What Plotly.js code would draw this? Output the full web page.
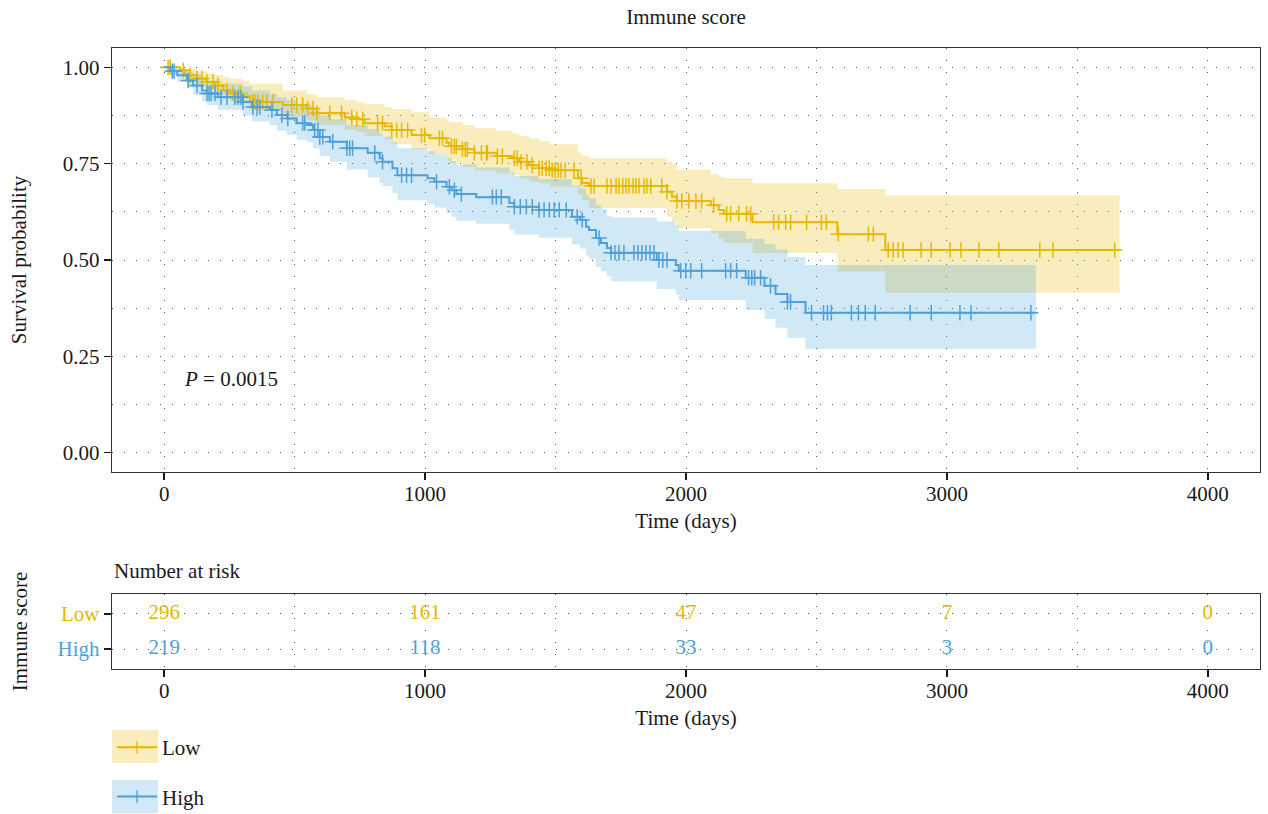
<!DOCTYPE html>
<html>
<head>
<meta charset="utf-8">
<script src="https://cdn.plot.ly/plotly-3.0.1.min.js"></script>
<style>html,body{margin:0;padding:0;background:#fff}#chart{width:1268px;height:814px}</style>
</head>
<body>
<div id="chart"></div>
<script>
// ---- Kaplan-Meier data (days, survival, 95% CI) ----
const lowTime  = [0,61,80,126,164,195,226,252,302,329,455,547,585,692,738,768,845,872,948,1017,1082,1093,1143,1189,1273,1334,1361,1399,1437,1480,1586,1602,1628,1927,1946,1965,2095,2125,2145,2255,2580,2764,3662];
const lowSurv  = [1,.992,.979,.971,.962,.953,.940,.932,.925,.910,.902,.893,.881,.870,.865,.855,.847,.837,.824,.816,.804,.795,.787,.778,.770,.764,.755,.746,.738,.733,.712,.700,.692,.677,.664,.653,.642,.630,.620,.598,.567,.526,.526];
const lowUpper = [1,.998,.995,.990,.984,.980,.975,.970,.965,.958,.940,.930,.922,.915,.909,.905,.897,.892,.883,.870,.862,.858,.850,.842,.835,.829,.822,.815,.809,.800,.778,.770,.764,.755,.750,.735,.723,.716,.712,.699,.684,.668,.668];
const lowLower = [1,.982,.968,.958,.945,.935,.920,.912,.905,.888,.872,.862,.850,.838,.832,.822,.812,.800,.787,.775,.762,.751,.742,.733,.725,.720,.712,.703,.699,.690,.670,.655,.635,.612,.600,.583,.570,.556,.544,.518,.470,.415,.415];

const highTime  = [0,23,50,88,111,145,164,206,302,336,405,432,470,508,547,570,596,635,700,780,826,837,875,894,1009,1036,1082,1101,1120,1196,1323,1342,1437,1563,1594,1617,1628,1655,1674,1697,1713,1888,1961,1972,2229,2301,2343,2389,2458,3341];
const highSurv  = [1,.990,.979,.966,.953,.940,.932,.922,.910,.897,.889,.876,.867,.855,.850,.837,.819,.807,.790,.778,.764,.755,.738,.720,.712,.703,.690,.681,.671,.663,.648,.638,.630,.612,.604,.586,.578,.557,.544,.531,.519,.500,.487,.472,.454,.433,.412,.391,.363,.363];
const highUpper = [1,.999,.995,.990,.982,.972,.966,.958,.950,.940,.932,.922,.915,.905,.900,.890,.875,.865,.850,.840,.828,.820,.805,.790,.782,.775,.765,.757,.748,.740,.727,.718,.710,.693,.686,.668,.660,.642,.632,.615,.611,.600,.590,.575,.555,.541,.527,.508,.487,.487];
const highLower = [1,.980,.962,.945,.928,.912,.902,.890,.875,.860,.850,.835,.825,.812,.805,.790,.770,.755,.735,.715,.700,.692,.674,.655,.646,.636,.622,.612,.602,.594,.578,.566,.558,.540,.530,.512,.503,.482,.470,.457,.445,.425,.410,.396,.370,.347,.324,.298,.270,.270];

// censoring times (days)
const lowCensor  = [15,23,73,99,126,145,164,187,206,241,264,291,340,348,359,378,394,417,489,508,531,550,570,585,635,680,719,738,761,818,837,872,891,910,933,986,998,1055,1067,1101,1112,1120,1143,1154,1162,1189,1216,1235,1239,1277,1296,1342,1353,1368,1391,1411,1437,1449,1464,1476,1487,1498,1510,1521,1537,1571,1598,1636,1648,1697,1713,1732,1743,1758,1770,1781,1797,1808,1820,1839,1850,1865,1907,1927,1965,1984,2011,2038,2060,2106,2156,2171,2202,2232,2248,2336,2355,2382,2401,2462,2519,2538,2584,2699,2718,2775,2794,2813,2832,2901,2940,3012,3054,3123,3199,3356,3406,3643];
const highCensor = [31,38,92,126,164,172,180,195,218,241,271,283,294,302,340,356,367,413,451,474,531,539,577,589,596,608,646,700,711,722,807,837,910,929,948,1044,1093,1112,1139,1258,1273,1292,1342,1365,1388,1411,1437,1456,1476,1495,1514,1541,1583,1602,1667,1713,1728,1743,1762,1800,1816,1831,1846,1862,1877,1896,1911,1927,1980,1999,2018,2060,2152,2171,2194,2240,2252,2263,2286,2324,2389,2401,2481,2527,2542,2557,2634,2661,2687,2725,2859,2940,3050,3092,3322];

// number at risk table
const riskTimes = [0,1000,2000,3000,4000];
const riskLow   = [296,161,47,7,0];
const riskHigh  = [219,118,33,3,0];
const groupNames = ['Low','High'];

const xTicks = [0,1000,2000,3000,4000];
const yTicks = [0,0.25,0.5,0.75,1];

// ---- styles ----
const cLow = '#E7B800', cHigh = '#4FA0D8';
const fLow = 'rgba(231,184,0,0.26)', fHigh = 'rgba(72,162,222,0.25)';
const FONT = 'Liberation Serif, Times New Roman, serif';
const FS = 21;
const gridStyle = {showgrid:true, gridcolor:'#555', gridwidth:1, griddash:'1px,11px'};

function stepAt(T, S, t){ let v = S[0]; for (let i=0;i<T.length;i++){ if (T[i] <= t) v = S[i]; } return v; }

const traces = [];
function addBand(T, U, L, fill){
  traces.push({x:T, y:L, type:'scatter', mode:'lines', line:{shape:'hv', width:0, color:fill}, hoverinfo:'skip', showlegend:false, xaxis:'x', yaxis:'y'});
  traces.push({x:T, y:U, type:'scatter', mode:'lines', line:{shape:'hv', width:0, color:fill}, fill:'tonexty', fillcolor:fill, hoverinfo:'skip', showlegend:false, xaxis:'x', yaxis:'y'});
}
addBand(lowTime, lowUpper, lowLower, fLow);
addBand(highTime, highUpper, highLower, fHigh);

function addCurve(T, S, C, color, name){
  traces.push({x:T, y:S, type:'scatter', mode:'lines', line:{shape:'hv', width:2, color:color}, name:name, showlegend:false, xaxis:'x', yaxis:'y'});
  traces.push({x:C, y:C.map(t=>stepAt(T,S,t)), type:'scatter', mode:'markers',
    marker:{symbol:'cross-thin', size:11, color:color, line:{width:1.5, color:color}}, showlegend:false, xaxis:'x', yaxis:'y'});
}
addCurve(lowTime, lowSurv, lowCensor, cLow, 'Low');
addCurve(highTime, highSurv, highCensor, cHigh, 'High');

// legend entries
[[groupNames[0], cLow],[groupNames[1], cHigh]].forEach(([n,c],i)=>{
  traces.push({x:[null], y:[null], type:'scatter', mode:'lines+markers',
    line:{color:c, width:2}, marker:{symbol:'cross-thin', size:9, color:c, line:{width:1.3,color:c}},
    name:n, legendgroup:'g'+i, showlegend:true, xaxis:'x', yaxis:'y'});
});

// risk table
traces.push({x:riskTimes, y:riskTimes.map(()=>1), text:riskLow.map(String), mode:'text', type:'scatter',
  textfont:{family:FONT, size:FS, color:cLow}, showlegend:false, hoverinfo:'skip', xaxis:'x2', yaxis:'y2'});
traces.push({x:riskTimes, y:riskTimes.map(()=>0), text:riskHigh.map(String), mode:'text', type:'scatter',
  textfont:{family:FONT, size:FS, color:cHigh}, showlegend:false, hoverinfo:'skip', xaxis:'x2', yaxis:'y2'});

const tfont = {family:FONT, size:FS, color:'#1a1a1a'};
const axisCommon = {showline:true, mirror:true, linecolor:'#333', linewidth:1.3, ticks:'outside', ticklen:7, tickwidth:1.4, tickcolor:'#1a1a1a',
  zeroline:false, tickfont:tfont};

const PH = 814-48-145;
const layout = {
  width:1268, height:814,
  margin:{l:112, r:8, t:48, b:145, autoexpand:false},
  paper_bgcolor:'#fff', plot_bgcolor:'#fff',
  font:tfont,
  title:{text:'Immune score', font:tfont, x:0.5, xref:'paper', y:1-17/814, yref:'container', yanchor:'middle'},
  xaxis:Object.assign({}, axisCommon, gridStyle, {domain:[0,1], anchor:'y', range:[-200,4200], tickvals:xTicks, ticklabelstandoff:-5,
    minor:Object.assign({dtick:500, tick0:0, ticks:''}, gridStyle),
    title:{text:'Time (days)', font:tfont, standoff:8}}),
  yaxis:Object.assign({}, axisCommon, gridStyle, {domain:[(669-472)/PH,1], anchor:'x', range:[-0.05,1.05], tickvals:yTicks, tickformat:'.2f',
    minor:Object.assign({dtick:0.125, tick0:0, ticks:''}, gridStyle),
    title:{text:'Survival probability', font:tfont, standoff:30}}),
  xaxis2:Object.assign({}, axisCommon, gridStyle, {domain:[0,1], anchor:'y2', range:[-200,4200], tickvals:xTicks, ticklabelstandoff:-5,
    minor:Object.assign({dtick:500, tick0:0, ticks:''}, gridStyle),
    title:{text:'Time (days)', font:tfont, standoff:8}}),
  yaxis2:Object.assign({}, axisCommon, gridStyle, {domain:[0,(669-594)/PH], anchor:'x2', range:[-0.57,1.57], tickvals:[1,0],
    ticktext:['<span style="color:'+cLow+'">'+groupNames[0]+'</span>','<span style="color:'+cHigh+'">'+groupNames[1]+'</span>'],
    title:{text:'Immune score', font:tfont, standoff:24}}),
  annotations:[
    {text:'<i>P</i> = 0.0015', x:70, y:0.19, xref:'x', yref:'y', xanchor:'left', yanchor:'middle', showarrow:false, font:tfont},
    {text:'Number at risk', x:0, y:(669-571)/PH, xref:'paper', yref:'paper', xanchor:'left', yanchor:'middle', showarrow:false, font:tfont}
  ],
  shapes:[
    {type:'rect', xref:'paper', yref:'paper', x0:0, x1:46/1148, y0:(669-763)/PH, y1:(669-730)/PH, fillcolor:fLow, line:{width:0}, layer:'below'},
    {type:'rect', xref:'paper', yref:'paper', x0:0, x1:46/1148, y0:(669-813)/PH, y1:(669-780)/PH, fillcolor:fHigh, line:{width:0}, layer:'below'}
  ],
  showlegend:true,
  legend:{x:0, xanchor:'left', y:-(727-669)/PH, yanchor:'top', orientation:'v', tracegroupgap:19, itemwidth:40,
    font:tfont, bgcolor:'rgba(0,0,0,0)'}
};

Plotly.newPlot('chart', traces, layout, {displayModeBar:false, staticPlot:true});
</script>
</body>
</html>
